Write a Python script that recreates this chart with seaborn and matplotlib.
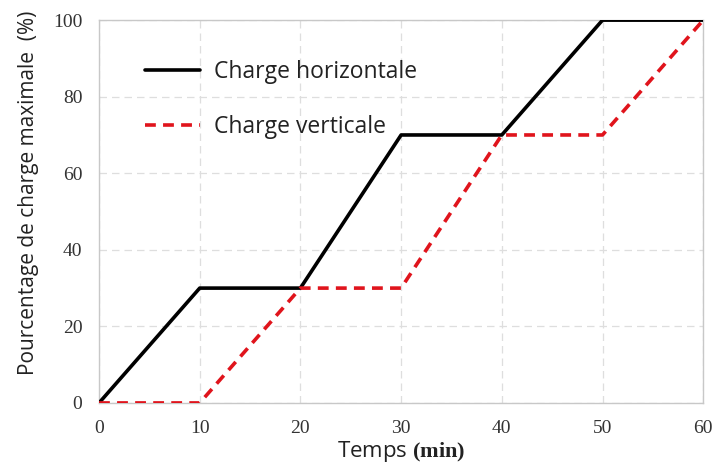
import matplotlib
matplotlib.use("Agg")
import matplotlib.pyplot as plt
import seaborn as sns
import pandas as pd

temps = [0, 10, 20, 30, 40, 50, 60]
charge_horizontale = [0, 30, 30, 70, 70, 100, 100]
charge_verticale = [0, 0, 30, 30, 70, 70, 100]
xticks = [0, 10, 20, 30, 40, 50, 60]
yticks = [0, 20, 40, 60, 80, 100]

sns.set_theme(style="white")
plt.rcParams['font.family'] = ['Open Sans', 'DejaVu Sans']
plt.rcParams['mathtext.fontset'] = 'custom'
plt.rcParams['mathtext.bf'] = 'Liberation Serif:bold'
plt.rcParams['mathtext.rm'] = 'Liberation Serif'

fig = plt.figure(figsize=(7.15, 4.68), dpi=100)
ax = fig.add_axes([0.1385, 0.139, 0.845, 0.818])

df_h = pd.DataFrame({"t": temps, "v": charge_horizontale})
df_v = pd.DataFrame({"t": temps, "v": charge_verticale})
sns.lineplot(data=df_h, x="t", y="v", ax=ax, color="black", lw=2.6,
             label="Charge horizontale", zorder=3)
sns.lineplot(data=df_v, x="t", y="v", ax=ax, color="#e0141c", lw=2.6,
             linestyle=(0, (3, 2)), label="Charge verticale", zorder=4)

ax.set_xlim(0, 60)
ax.set_ylim(0, 100)
ax.set_xticks(xticks)
ax.set_yticks(yticks)
ax.grid(True, color="#dedede", linestyle=(0, (6, 4)), lw=0.9)
for s in ax.spines.values():
    s.set_color("#c8c8c8")
    s.set_linewidth(1.0)
ax.tick_params(axis="x", length=0, pad=12)
ax.tick_params(axis="y", length=0, pad=12)
for lab in ax.get_xticklabels() + ax.get_yticklabels():
    lab.set_fontfamily("Liberation Serif")
    lab.set_fontsize(14)
    lab.set_color("#333333")

ax.set_xlabel(r"Temps $\mathbf{(min)}$", fontsize=16, color="#222222", labelpad=2)
ax.set_ylabel("Pourcentage de charge maximale  (%)", fontsize=15, color="#222222")
ax.yaxis.set_label_coords(-0.100, 0.548)

leg = ax.legend(loc="upper left", bbox_to_anchor=(0.076, 0.895), frameon=False,
                borderaxespad=0, borderpad=0,
                fontsize=16.5, handlelength=2.4, labelspacing=1.32, handletextpad=0.6)
for t in leg.get_texts():
    t.set_color("#222222")

fig.savefig("out.png", dpi=100)
